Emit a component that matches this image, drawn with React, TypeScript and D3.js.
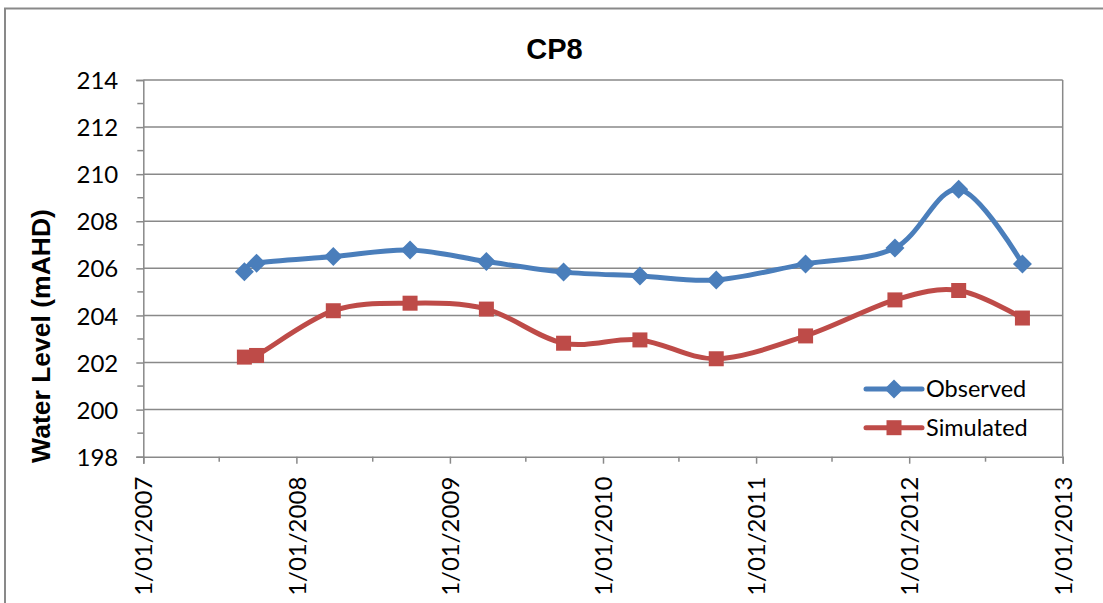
import { useEffect, useRef } from 'react';
import * as d3 from 'd3';

const sampleDates = [
  '2007-08-30',
  '2007-09-28',
  '2008-03-29',
  '2008-09-28',
  '2009-03-29',
  '2009-09-29',
  '2010-03-30',
  '2010-09-28',
  '2011-04-29',
  '2011-11-28',
  '2012-04-28',
  '2012-09-27',
];
const observed = [205.86, 206.22, 206.5, 206.78, 206.29, 205.84, 205.68, 205.51, 206.19, 206.86, 209.36, 206.19];
const simulated = [202.23, 202.3, 204.2, 204.52, 204.27, 202.82, 202.96, 202.16, 203.13, 204.66, 205.06, 203.89];
const yMajorTicks = [198, 200, 202, 204, 206, 208, 210, 212, 214];
const yMinorTicks = [199, 201, 203, 205, 207, 209, 211, 213];
const xYears = [2007, 2008, 2009, 2010, 2011, 2012, 2013];
const seriesNames = ['Observed', 'Simulated'];

const COLORS = ['#4A7EBB', '#BE4B48'];
const GRID = '#898989';
const TICK_FONT = 'Lato, "Open Sans", sans-serif';
const BOLD_FONT = '"Liberation Sans", Arial, sans-serif';

export default function App() {
  const ref = useRef<SVGSVGElement>(null);

  useEffect(() => {
    const width = 1103;
    const height = 603;
    const plot = { left: 143.3, right: 1062.7, top: 80, bottom: 456.7 };

    const svg = d3.select(ref.current);
    svg.selectAll('*').remove();
    svg.attr('viewBox', `0 0 ${width} ${height}`);

    const parse = d3.timeParse('%Y-%m-%d');
    const dates = sampleDates.map((d) => parse(d) as Date);
    const x = d3
      .scaleTime()
      .domain([new Date(2007, 0, 1), new Date(2013, 0, 1)])
      .range([plot.left, plot.right]);
    const y = d3.scaleLinear().domain([198, 214]).range([plot.bottom, plot.top]);

    // chart frame
    svg
      .append('rect')
      .attr('x', 5)
      .attr('y', 8.5)
      .attr('width', 1120)
      .attr('height', 620)
      .attr('fill', '#fff')
      .attr('stroke', GRID)
      .attr('stroke-width', 2);

    // gridlines
    svg
      .append('g')
      .selectAll('line')
      .data(yMajorTicks.slice(1))
      .join('line')
      .attr('x1', plot.left)
      .attr('x2', plot.right)
      .attr('y1', (d) => y(d))
      .attr('y2', (d) => y(d))
      .attr('stroke', GRID)
      .attr('stroke-width', 1.5);

    svg
      .append('line')
      .attr('x1', plot.right)
      .attr('x2', plot.right)
      .attr('y1', plot.top)
      .attr('y2', plot.bottom)
      .attr('stroke', GRID)
      .attr('stroke-width', 1.5);

    // y axis
    svg
      .append('g')
      .attr('transform', `translate(${plot.left},0)`)
      .call(d3.axisLeft(y).tickValues(yMajorTicks).tickSize(7).tickFormat(d3.format('d')))
      .call((axis) => axis.select('.domain').attr('stroke', GRID).attr('stroke-width', 1.5))
      .call((axis) => axis.selectAll('line').attr('stroke', GRID).attr('stroke-width', 1.5))
      .call((axis) =>
        axis
          .selectAll('text')
          .attr('x', -25)
          .attr('dy', '0.36em')
          .attr('fill', '#000')
          .attr('font-family', TICK_FONT)
          .attr('font-size', 24),
      );

    svg
      .append('g')
      .selectAll('line')
      .data(yMinorTicks)
      .join('line')
      .attr('x1', plot.left - 6)
      .attr('x2', plot.left)
      .attr('y1', (d) => y(d))
      .attr('y2', (d) => y(d))
      .attr('stroke', GRID)
      .attr('stroke-width', 1.5);

    // x axis
    svg
      .append('g')
      .attr('transform', `translate(0,${plot.bottom})`)
      .call(
        d3
          .axisBottom(x)
          .tickValues(xYears.map((yr) => new Date(yr, 0, 1)))
          .tickSize(7)
          .tickFormat((d) => d3.timeFormat('%-d/%m/%Y')(d as Date)),
      )
      .call((axis) => axis.select('.domain').attr('stroke', GRID).attr('stroke-width', 1.5))
      .call((axis) => axis.selectAll('line').attr('stroke', GRID).attr('stroke-width', 1.5))
      .call((axis) =>
        axis
          .selectAll('text')
          .attr('transform', 'rotate(-90)')
          .attr('text-anchor', 'end')
          .attr('x', -20)
          .attr('y', 0)
          .attr('dy', '0.36em')
          .attr('fill', '#000')
          .attr('font-family', TICK_FONT)
          .attr('font-size', 24),
      );

    svg
      .append('g')
      .selectAll('line')
      .data(xYears.slice(0, -1).map((yr) => new Date(yr, 6, 1)))
      .join('line')
      .attr('x1', (d) => x(d))
      .attr('x2', (d) => x(d))
      .attr('y1', plot.bottom)
      .attr('y2', plot.bottom + 5)
      .attr('stroke', GRID)
      .attr('stroke-width', 1.5);

    // series
    const diamond = 'M0,-9.5L9.5,0L0,9.5L-9.5,0Z';
    const square = 'M-7.5,-7.5H7.5V7.5H-7.5Z';
    const markers = [diamond, square];
    const seriesValues = [observed, simulated];

    const line = d3
      .line<number>()
      .x((_, i) => x(dates[i]))
      .y((v) => y(v))
      .curve(d3.curveCardinal.tension(0));

    seriesValues.forEach((values, s) => {
      const g = svg.append('g');
      g.append('path')
        .attr('d', line(values))
        .attr('fill', 'none')
        .attr('stroke', COLORS[s])
        .attr('stroke-width', 5)
        .attr('stroke-linejoin', 'round')
        .attr('stroke-linecap', 'round');
      g.selectAll('path.marker')
        .data(values)
        .join('path')
        .attr('class', 'marker')
        .attr('transform', (v, i) => `translate(${x(dates[i])},${y(v)})`)
        .attr('d', markers[s])
        .attr('fill', COLORS[s]);
    });

    // legend
    const legend = svg
      .append('g')
      .selectAll('g')
      .data(seriesNames)
      .join('g')
      .attr('transform', (_, i) => `translate(866,${389 + i * 38.7})`);
    legend
      .append('line')
      .attr('x1', 0)
      .attr('x2', 56)
      .attr('stroke', (_, i) => COLORS[i])
      .attr('stroke-width', 5)
      .attr('stroke-linecap', 'round');
    legend
      .append('path')
      .attr('transform', 'translate(28,0)')
      .attr('d', (_, i) => markers[i])
      .attr('fill', (_, i) => COLORS[i]);
    legend
      .append('text')
      .attr('x', 60)
      .attr('dy', '0.36em')
      .attr('font-family', TICK_FONT)
      .attr('font-size', 23.5)
      .text((d) => d);

    // titles
    svg
      .append('text')
      .attr('x', 554.5)
      .attr('y', 59.3)
      .attr('text-anchor', 'middle')
      .attr('font-family', BOLD_FONT)
      .attr('font-weight', 'bold')
      .attr('font-size', 29)
      .text('CP8');

    svg
      .append('text')
      .attr('transform', 'translate(50,336) rotate(-90)')
      .attr('text-anchor', 'middle')
      .attr('font-family', BOLD_FONT)
      .attr('font-weight', 'bold')
      .attr('font-size', 26.5)
      .text('Water Level (mAHD)');
  }, []);

  return (
    <svg
      ref={ref}
      width={1103}
      height={603}
      style={{ position: 'absolute', left: 0, top: 0, display: 'block' }}
      role="img"
      aria-label="CP8"
    />
  );
}
